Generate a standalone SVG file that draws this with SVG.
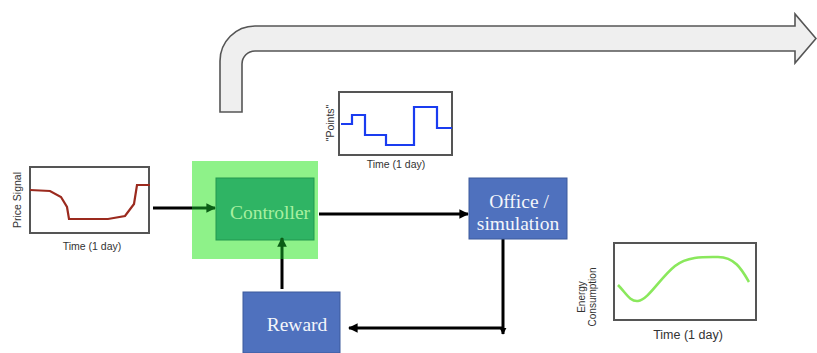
<svg xmlns="http://www.w3.org/2000/svg" width="817" height="353" viewBox="0 0 817 353">
<defs>
<style>
.frame{fill:#fff;stroke:#555;stroke-width:2}
.lbl{font-family:"Liberation Sans",Arial,sans-serif;fill:#333}
.box{font-family:"Liberation Serif","Times New Roman",serif;font-size:19.5px;text-anchor:middle}
.conn{stroke:#000;stroke-width:3;fill:none}
.connG{stroke:#0b5e16;stroke-width:3;fill:none}
</style>
<marker id="ah" viewBox="0 0 10 10" refX="9" refY="5" markerWidth="3.2" markerHeight="3.2" orient="auto" markerUnits="strokeWidth">
<path d="M0,0 L10,5 L0,10 z" fill="#000"/>
</marker>
<marker id="ahg" viewBox="0 0 10 10" refX="9" refY="5" markerWidth="3.2" markerHeight="3.2" orient="auto" markerUnits="strokeWidth">
<path d="M0,0 L10,5 L0,10 z" fill="#0b5e16"/>
</marker>
<marker id="ahs" viewBox="0 0 10 10" refX="9" refY="5" markerWidth="2.4" markerHeight="2.4" orient="auto" markerUnits="strokeWidth">
<path d="M0,0 L10,5 L0,10 z" fill="#000"/>
</marker>
</defs>
<rect width="817" height="353" fill="#fff"/>

<g id="big-arrow">
<path d="M220,112 L220,61 A35,35 0 0 1 255,26 L795,26 L795,14 L816,38.5 L795,63 L795,51 L255,51 A13,13 0 0 0 242,64 L242,112 Z" fill="#efefef" stroke="#555" stroke-width="1.6"/>
</g>

<g id="controller">
<rect x="192" y="161" width="126" height="98" fill="#8ef289"/>
<rect x="216" y="178" width="98" height="62" fill="#2fb464" stroke="#23984f" stroke-width="1"/>
<text class="box" x="270" y="219" fill="#a8f0a0">Controller</text>
</g>

<g id="connectors">
<line class="conn" x1="153" y1="208" x2="192" y2="208"/>
<line class="connG" x1="192" y1="208" x2="215" y2="208" marker-end="url(#ahg)"/>
<line class="conn" x1="319" y1="214" x2="468" y2="214" marker-end="url(#ah)"/>
<line class="conn" x1="503" y1="239" x2="503" y2="334" marker-end="url(#ahs)"/>
<line class="conn" x1="503" y1="328" x2="349" y2="328" marker-end="url(#ah)"/>
<line class="conn" x1="282" y1="289" x2="282" y2="259"/>
<line class="connG" x1="282" y1="259" x2="282" y2="238" marker-end="url(#ahg)"/>
</g>

<g id="price-chart">
<rect class="frame" x="30" y="167" width="119" height="66"/>
<polyline points="30,190 50,191 61,197 67,207 69,219 108,219 125,216 134,204 137,185 150,185" fill="none" stroke="#9b2a1e" stroke-width="2.2"/>
<text class="lbl" x="92" y="250" font-size="10.5" text-anchor="middle">Time (1 day)</text>
<text class="lbl" transform="translate(21,200) rotate(-90)" font-size="10.5" text-anchor="middle">Price Signal</text>
</g>

<g id="points-chart">
<rect class="frame" x="339" y="92" width="113" height="63"/>
<polyline points="341,124 352,124 352,115 365,115 365,135 386,135 386,145 414,145 414,107 437,107 437,128 452,128" fill="none" stroke="#1a3cf0" stroke-width="2.2"/>
<text class="lbl" x="396" y="168" font-size="10.5" text-anchor="middle">Time (1 day)</text>
<text class="lbl" transform="translate(334,123) rotate(-90)" font-size="10.5" text-anchor="middle">"Points"</text>
</g>

<g id="office">
<rect x="469" y="178" width="98" height="61" fill="#4f71be" stroke="#3d5a9c" stroke-width="1"/>
<text class="box" x="519" y="208" fill="#f4f6fb">Office /</text>
<text class="box" x="518" y="230" fill="#f4f6fb">simulation</text>
</g>

<g id="reward">
<rect x="243" y="292" width="97" height="61" fill="#4f71be" stroke="#3d5a9c" stroke-width="1"/>
<text class="box" x="297" y="331" fill="#f4f6fb">Reward</text>
</g>

<g id="energy-chart">
<rect class="frame" x="614" y="243" width="142" height="77"/>
<path d="M618,285 C626,293 630,302 638,301 C648,300 660,278 675,266 C688,256 705,257 718,257 C735,257 742,270 749,282" fill="none" stroke="#8ae85c" stroke-width="2.6"/>
<text class="lbl" x="688" y="339" font-size="12.5" text-anchor="middle">Time (1 day)</text>
<text class="lbl" transform="translate(585,297) rotate(-90)" font-size="10" text-anchor="middle">Energy</text>
<text class="lbl" transform="translate(596,297) rotate(-90)" font-size="10" text-anchor="middle">Consumption</text>
</g>
</svg>
